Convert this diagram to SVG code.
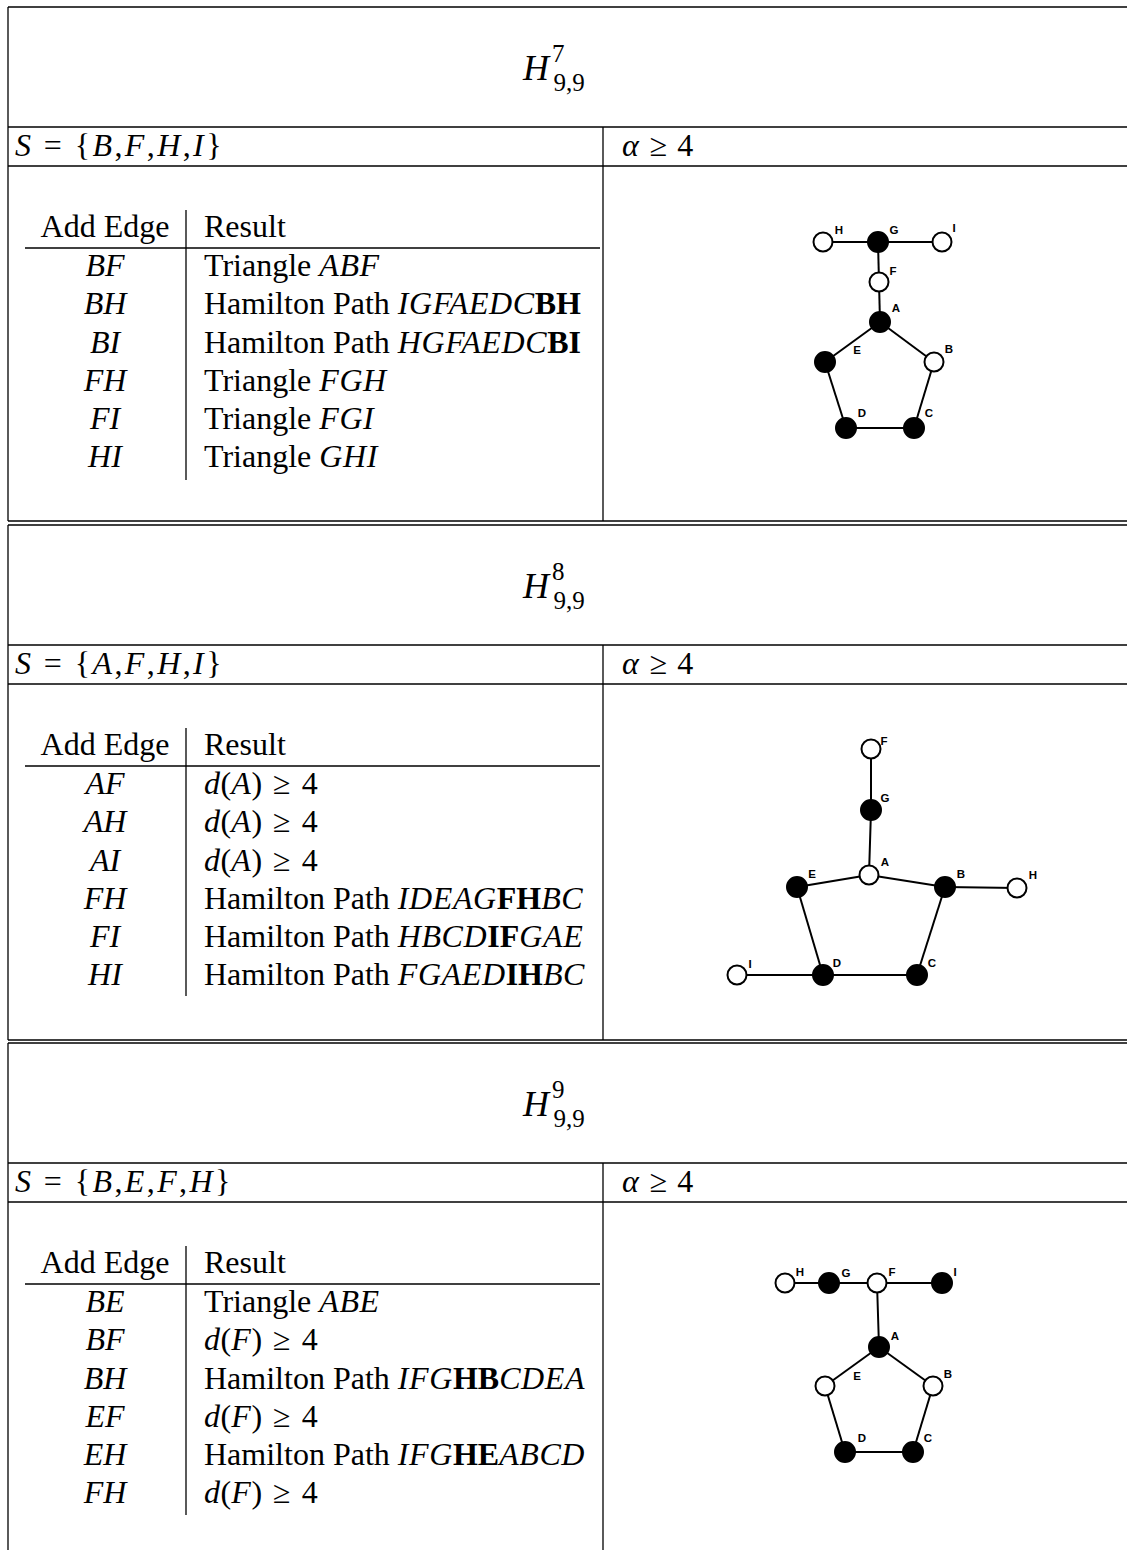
<svg xmlns="http://www.w3.org/2000/svg" width="1127" height="1550" viewBox="0 0 1127 1550">
<style>
.t{font-family:"Liberation Serif","Times New Roman",serif;font-size:32px;fill:#000}
.c{text-anchor:middle}
.i{font-style:italic}
.m{font-style:italic;letter-spacing:0.6px}
.b{font-weight:bold}
.s{letter-spacing:2.4px}
.ttl{font-family:"Liberation Serif","Times New Roman",serif;font-size:36px;font-style:italic;fill:#000}
.sm{font-family:"Liberation Serif","Times New Roman",serif;font-size:25px;font-style:normal;fill:#000}
.rule{stroke:#000;stroke-width:1.3;fill:none}
.edge{stroke:#000;stroke-width:2;fill:none}
.w{fill:#fff;stroke:#000;stroke-width:2}
.k{fill:#000;stroke:#000;stroke-width:2}
.lbl{font-family:"Liberation Sans",Arial,sans-serif;font-size:11.5px;font-weight:bold;fill:#000;text-anchor:middle;dominant-baseline:central}
</style>

<!-- ===== Table rules ===== -->
<g id="table-rules" class="rule">
  <!-- section 1 -->
  <line x1="8" y1="7" x2="1127" y2="7"/>
  <line x1="8" y1="127" x2="1127" y2="127"/>
  <line x1="8" y1="166" x2="1127" y2="166"/>
  <line x1="8" y1="521" x2="1127" y2="521"/>
  <line x1="8" y1="7" x2="8" y2="521"/>
  <line x1="603" y1="127" x2="603" y2="521"/>
  <line x1="25" y1="248" x2="600" y2="248"/>
  <line x1="186" y1="210" x2="186" y2="480"/>
  <!-- section 2 -->
  <line x1="8" y1="525" x2="1127" y2="525"/>
  <line x1="8" y1="645" x2="1127" y2="645"/>
  <line x1="8" y1="684" x2="1127" y2="684"/>
  <line x1="8" y1="1040" x2="1127" y2="1040"/>
  <line x1="8" y1="525" x2="8" y2="1040"/>
  <line x1="603" y1="645" x2="603" y2="1040"/>
  <line x1="25" y1="766" x2="600" y2="766"/>
  <line x1="186" y1="728" x2="186" y2="996"/>
  <!-- section 3 -->
  <line x1="8" y1="1043" x2="1127" y2="1043"/>
  <line x1="8" y1="1163" x2="1127" y2="1163"/>
  <line x1="8" y1="1202" x2="1127" y2="1202"/>
  <line x1="8" y1="1043" x2="8" y2="1550"/>
  <line x1="603" y1="1163" x2="603" y2="1550"/>
  <line x1="25" y1="1284" x2="600" y2="1284"/>
  <line x1="186" y1="1246" x2="186" y2="1515"/>
</g>

<!-- ===== Section 1 text ===== -->
<g id="section1-text">
  <text x="523" y="80" class="ttl">H<tspan class="sm" dx="3" dy="-18">7</tspan><tspan class="sm" dx="-11" dy="29">9,9</tspan></text>
  <text x="15" y="156" class="t s"><tspan class="i">S</tspan> = {<tspan class="i">B</tspan>,<tspan class="i">F</tspan>,<tspan class="i">H</tspan>,<tspan class="i">I</tspan>}</text>
  <text x="622" y="156" class="t"><tspan class="i">α</tspan> <tspan dx="3">≥</tspan> <tspan dx="2">4</tspan></text>
  <text x="105" y="237" class="t c">Add Edge</text>
  <text x="204" y="237" class="t">Result</text>
  <text x="105" y="276" class="t c i">BF</text>
  <text x="105" y="314" class="t c i">BH</text>
  <text x="105" y="353" class="t c i">BI</text>
  <text x="105" y="391" class="t c i">FH</text>
  <text x="105" y="429" class="t c i">FI</text>
  <text x="105" y="467" class="t c i">HI</text>
  <text x="204" y="276" class="t">Triangle <tspan class="m">ABF</tspan></text>
  <text x="204" y="314" class="t">Hamilton Path <tspan class="m">IGFAEDC</tspan><tspan class="b">BH</tspan></text>
  <text x="204" y="353" class="t">Hamilton Path <tspan class="m">HGFAEDC</tspan><tspan class="b">BI</tspan></text>
  <text x="204" y="391" class="t">Triangle <tspan class="m">FGH</tspan></text>
  <text x="204" y="429" class="t">Triangle <tspan class="m">FGI</tspan></text>
  <text x="204" y="467" class="t">Triangle <tspan class="m">GHI</tspan></text>
</g>

<!-- ===== Section 2 text ===== -->
<g id="section2-text">
  <text x="523" y="598" class="ttl">H<tspan class="sm" dx="3" dy="-18">8</tspan><tspan class="sm" dx="-11" dy="29">9,9</tspan></text>
  <text x="15" y="674" class="t s"><tspan class="i">S</tspan> = {<tspan class="i">A</tspan>,<tspan class="i">F</tspan>,<tspan class="i">H</tspan>,<tspan class="i">I</tspan>}</text>
  <text x="622" y="674" class="t"><tspan class="i">α</tspan> <tspan dx="3">≥</tspan> <tspan dx="2">4</tspan></text>
  <text x="105" y="755" class="t c">Add Edge</text>
  <text x="204" y="755" class="t">Result</text>
  <text x="105" y="794" class="t c i">AF</text>
  <text x="105" y="832" class="t c i">AH</text>
  <text x="105" y="871" class="t c i">AI</text>
  <text x="105" y="909" class="t c i">FH</text>
  <text x="105" y="947" class="t c i">FI</text>
  <text x="105" y="985" class="t c i">HI</text>
  <text x="204" y="794" class="t"><tspan class="m">d</tspan>(<tspan class="m">A</tspan>) <tspan dx="3">≥</tspan> <tspan dx="3">4</tspan></text>
  <text x="204" y="832" class="t"><tspan class="m">d</tspan>(<tspan class="m">A</tspan>) <tspan dx="3">≥</tspan> <tspan dx="3">4</tspan></text>
  <text x="204" y="871" class="t"><tspan class="m">d</tspan>(<tspan class="m">A</tspan>) <tspan dx="3">≥</tspan> <tspan dx="3">4</tspan></text>
  <text x="204" y="909" class="t">Hamilton Path <tspan class="m">IDEAG</tspan><tspan class="b">FH</tspan><tspan class="m">BC</tspan></text>
  <text x="204" y="947" class="t">Hamilton Path <tspan class="m">HBCD</tspan><tspan class="b">IF</tspan><tspan class="m">GAE</tspan></text>
  <text x="204" y="985" class="t">Hamilton Path <tspan class="m">FGAED</tspan><tspan class="b">IH</tspan><tspan class="m">BC</tspan></text>
</g>

<!-- ===== Section 3 text ===== -->
<g id="section3-text">
  <text x="523" y="1116" class="ttl">H<tspan class="sm" dx="3" dy="-18">9</tspan><tspan class="sm" dx="-11" dy="29">9,9</tspan></text>
  <text x="15" y="1192" class="t s"><tspan class="i">S</tspan> = {<tspan class="i">B</tspan>,<tspan class="i">E</tspan>,<tspan class="i">F</tspan>,<tspan class="i">H</tspan>}</text>
  <text x="622" y="1192" class="t"><tspan class="i">α</tspan> <tspan dx="3">≥</tspan> <tspan dx="2">4</tspan></text>
  <text x="105" y="1273" class="t c">Add Edge</text>
  <text x="204" y="1273" class="t">Result</text>
  <text x="105" y="1312" class="t c i">BE</text>
  <text x="105" y="1350" class="t c i">BF</text>
  <text x="105" y="1389" class="t c i">BH</text>
  <text x="105" y="1427" class="t c i">EF</text>
  <text x="105" y="1465" class="t c i">EH</text>
  <text x="105" y="1503" class="t c i">FH</text>
  <text x="204" y="1312" class="t">Triangle <tspan class="m">ABE</tspan></text>
  <text x="204" y="1350" class="t"><tspan class="m">d</tspan>(<tspan class="m">F</tspan>) <tspan dx="3">≥</tspan> <tspan dx="3">4</tspan></text>
  <text x="204" y="1389" class="t">Hamilton Path <tspan class="m">IFG</tspan><tspan class="b">HB</tspan><tspan class="m">CDEA</tspan></text>
  <text x="204" y="1427" class="t"><tspan class="m">d</tspan>(<tspan class="m">F</tspan>) <tspan dx="3">≥</tspan> <tspan dx="3">4</tspan></text>
  <text x="204" y="1465" class="t">Hamilton Path <tspan class="m">IFG</tspan><tspan class="b">HE</tspan><tspan class="m">ABCD</tspan></text>
  <text x="204" y="1503" class="t"><tspan class="m">d</tspan>(<tspan class="m">F</tspan>) <tspan dx="3">≥</tspan> <tspan dx="3">4</tspan></text>
</g>

<!-- ===== Graph connectors ===== -->
<g id="connectors" class="edge">
  <!-- graph 1 -->
  <line x1="823" y1="242" x2="878" y2="242"/>
  <line x1="878" y1="242" x2="942" y2="242"/>
  <line x1="878" y1="242" x2="879" y2="282"/>
  <line x1="879" y1="282" x2="880" y2="322"/>
  <line x1="880" y1="322" x2="825" y2="362"/>
  <line x1="880" y1="322" x2="934" y2="362"/>
  <line x1="825" y1="362" x2="846" y2="428"/>
  <line x1="934" y1="362" x2="914" y2="428"/>
  <line x1="846" y1="428" x2="914" y2="428"/>
  <!-- graph 2 -->
  <line x1="871" y1="749" x2="871" y2="810"/>
  <line x1="871" y1="810" x2="869" y2="875"/>
  <line x1="869" y1="875" x2="797" y2="887"/>
  <line x1="869" y1="875" x2="945" y2="887"/>
  <line x1="945" y1="887" x2="1017" y2="888"/>
  <line x1="797" y1="887" x2="823" y2="975"/>
  <line x1="945" y1="887" x2="917" y2="975"/>
  <line x1="823" y1="975" x2="917" y2="975"/>
  <line x1="737" y1="975" x2="823" y2="975"/>
  <!-- graph 3 -->
  <line x1="785" y1="1283" x2="829" y2="1283"/>
  <line x1="829" y1="1283" x2="877" y2="1283"/>
  <line x1="877" y1="1283" x2="942" y2="1283"/>
  <line x1="877" y1="1283" x2="879" y2="1347"/>
  <line x1="879" y1="1347" x2="825" y2="1386"/>
  <line x1="879" y1="1347" x2="933" y2="1386"/>
  <line x1="825" y1="1386" x2="845" y2="1452"/>
  <line x1="933" y1="1386" x2="913" y2="1452"/>
  <line x1="845" y1="1452" x2="913" y2="1452"/>
</g>

<!-- ===== Graph 1 nodes ===== -->
<g id="g1-H"><circle cx="823" cy="242" r="9.5" class="w"/><text x="839" y="230" class="lbl">H</text></g>
<g id="g1-G"><circle cx="878" cy="242" r="10" class="k"/><text x="894" y="230" class="lbl">G</text></g>
<g id="g1-I"><circle cx="942" cy="242" r="9.5" class="w"/><text x="954" y="228" class="lbl">I</text></g>
<g id="g1-F"><circle cx="879" cy="282" r="9.5" class="w"/><text x="893" y="271" class="lbl">F</text></g>
<g id="g1-A"><circle cx="880" cy="322" r="10" class="k"/><text x="896" y="308" class="lbl">A</text></g>
<g id="g1-E"><circle cx="825" cy="362" r="10" class="k"/><text x="857" y="350" class="lbl">E</text></g>
<g id="g1-B"><circle cx="934" cy="362" r="9.5" class="w"/><text x="949" y="349" class="lbl">B</text></g>
<g id="g1-D"><circle cx="846" cy="428" r="10" class="k"/><text x="862" y="413" class="lbl">D</text></g>
<g id="g1-C"><circle cx="914" cy="428" r="10" class="k"/><text x="929" y="413" class="lbl">C</text></g>

<!-- ===== Graph 2 nodes ===== -->
<g id="g2-F"><circle cx="871" cy="749" r="9.5" class="w"/><text x="884" y="741" class="lbl">F</text></g>
<g id="g2-G"><circle cx="871" cy="810" r="10" class="k"/><text x="885" y="798" class="lbl">G</text></g>
<g id="g2-A"><circle cx="869" cy="875" r="9.5" class="w"/><text x="885" y="862" class="lbl">A</text></g>
<g id="g2-E"><circle cx="797" cy="887" r="10" class="k"/><text x="812" y="874" class="lbl">E</text></g>
<g id="g2-B"><circle cx="945" cy="887" r="10" class="k"/><text x="961" y="874" class="lbl">B</text></g>
<g id="g2-H"><circle cx="1017" cy="888" r="9.5" class="w"/><text x="1033" y="875" class="lbl">H</text></g>
<g id="g2-I"><circle cx="737" cy="975" r="9.5" class="w"/><text x="750" y="964" class="lbl">I</text></g>
<g id="g2-D"><circle cx="823" cy="975" r="10" class="k"/><text x="837" y="963" class="lbl">D</text></g>
<g id="g2-C"><circle cx="917" cy="975" r="10" class="k"/><text x="932" y="963" class="lbl">C</text></g>

<!-- ===== Graph 3 nodes ===== -->
<g id="g3-H"><circle cx="785" cy="1283" r="9.5" class="w"/><text x="800" y="1272" class="lbl">H</text></g>
<g id="g3-G"><circle cx="829" cy="1283" r="10" class="k"/><text x="846" y="1273" class="lbl">G</text></g>
<g id="g3-F"><circle cx="877" cy="1283" r="9.5" class="w"/><text x="892" y="1272" class="lbl">F</text></g>
<g id="g3-I"><circle cx="942" cy="1283" r="10" class="k"/><text x="955" y="1272" class="lbl">I</text></g>
<g id="g3-A"><circle cx="879" cy="1347" r="10" class="k"/><text x="895" y="1336" class="lbl">A</text></g>
<g id="g3-E"><circle cx="825" cy="1386" r="9.5" class="w"/><text x="857" y="1376" class="lbl">E</text></g>
<g id="g3-B"><circle cx="933" cy="1386" r="9.5" class="w"/><text x="948" y="1374" class="lbl">B</text></g>
<g id="g3-D"><circle cx="845" cy="1452" r="10" class="k"/><text x="862" y="1438" class="lbl">D</text></g>
<g id="g3-C"><circle cx="913" cy="1452" r="10" class="k"/><text x="928" y="1438" class="lbl">C</text></g>
</svg>
